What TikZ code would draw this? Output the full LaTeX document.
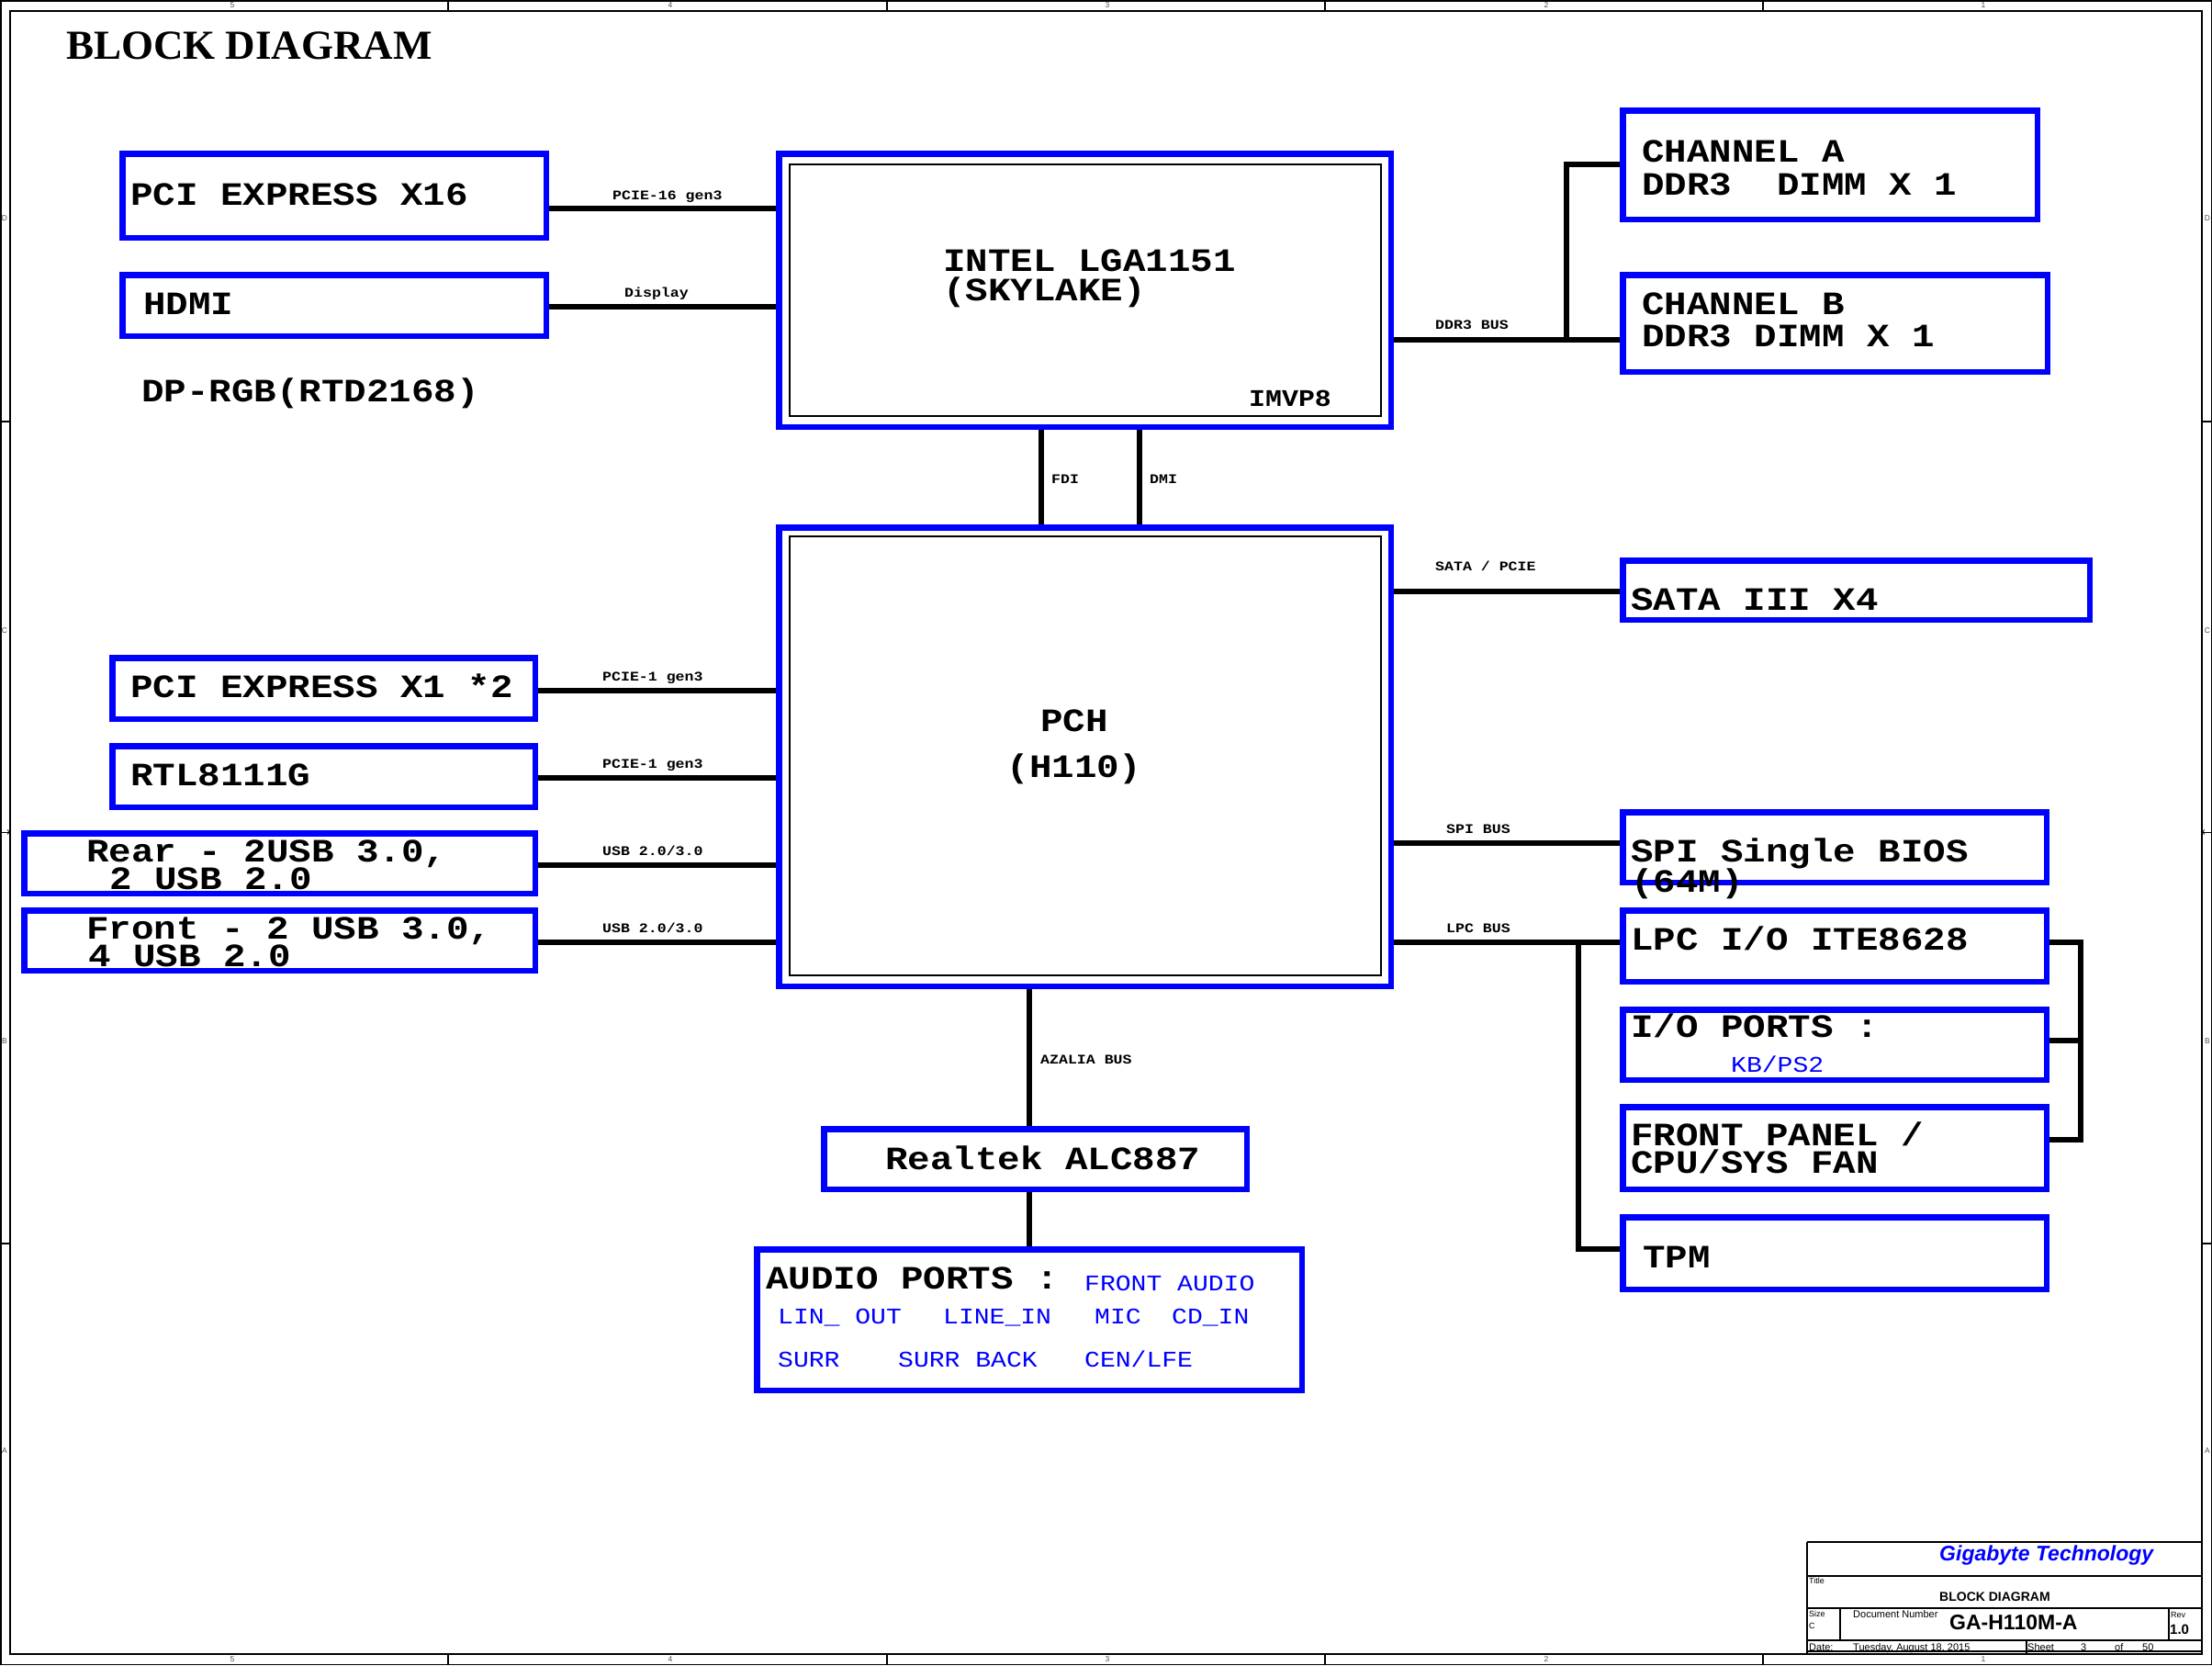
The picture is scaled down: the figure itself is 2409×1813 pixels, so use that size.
\documentclass[tikz,border=0pt]{standalone}
\usepackage{fontspec}
\setmainfont{Liberation Serif}
\setsansfont{Liberation Sans}
\newfontfamily\cour{Liberation Mono}[FakeStretch=1.15]
\usetikzlibrary{arrows}

\begin{document}
\begin{tikzpicture}[x=1pt,y=-1pt,
    blk/.style={draw=blue,line width=6.5pt,anchor=north west,inner sep=0pt},
    bus/.style={line width=6.5pt},
    big/.style={font=\cour\bfseries\fontsize{35.5}{35.5}\selectfont,anchor=base west,inner sep=0pt,text height=23pt,text depth=1pt},
    lbl/.style={font=\cour\bfseries\fontsize{14.4}{14.4}\selectfont,anchor=base west,inner sep=0pt,text height=10pt,text depth=1pt},
    pin/.style={font=\cour\fontsize{24.4}{24.4}\selectfont,text=blue,anchor=base west,inner sep=0pt,text height=16pt,text depth=1pt},
    tb/.style={font=\sffamily\fontsize{11}{11}\selectfont,anchor=base west,inner sep=0pt,text depth=0pt},
    zone/.style={font=\sffamily\fontsize{8.5}{8.5}\selectfont,text=black!70,inner sep=0pt}]
\useasboundingbox (0,0) rectangle (2409,1813);

\draw[line width=1.5pt] (0.75,0.75) rectangle (2408.25,1812.25);
\draw[line width=1.5pt] (11,12) rectangle (2398,1801);
\draw[line width=1.2pt] (488,0) -- (488,12) (966,0) -- (966,12) (1443,0) -- (1443,12) (1920,0) -- (1920,12)
    (488,1801) -- (488,1813) (966,1801) -- (966,1813) (1443,1801) -- (1443,1813) (1920,1801) -- (1920,1813)
    (0,459) -- (11,459) (0,1354) -- (11,1354) (2398,459) -- (2409,459) (2398,1354) -- (2409,1354);
\draw[line width=1pt,->] (0,906) -- (11,906);
\draw[line width=1pt,->] (2409,906) -- (2398,906);
\node[zone] (t5) at (253,6) {5};
\node[zone] (t4) at (730,6) {4};
\node[zone] (t3) at (1206,6) {3};
\node[zone] (t2) at (1684,6) {2};
\node[zone] (t1) at (2160,6) {1};
\node[zone] (b5) at (253,1807) {5};
\node[zone] (b4) at (730,1807) {4};
\node[zone] (b3) at (1206,1807) {3};
\node[zone] (b2) at (1684,1807) {2};
\node[zone] (b1) at (2160,1807) {1};
\node[zone] (ld) at (5,238) {D};
\node[zone] (lc) at (5,687) {C};
\node[zone] (lb) at (5,1134) {B};
\node[zone] (la) at (5,1580) {A};
\node[zone] (rd) at (2404,238) {D};
\node[zone] (rc) at (2404,687) {C};
\node[zone] (rb) at (2404,1134) {B};
\node[zone] (ra) at (2404,1580) {A};

\node[font=\rmfamily\bfseries\fontsize{45}{45}\selectfont,anchor=base west,inner sep=0pt] (title) at (72,64) {BLOCK DIAGRAM};

\node[blk,minimum width=461.5,minimum height=91.5] (x16) at (130,164) {};
\node[blk,minimum width=461.5,minimum height=66.5] (hdmi) at (130,296) {};
\node[blk,minimum width=666.5,minimum height=297.5] (cpu) at (845,164) {};
\node[blk,minimum width=666.5,minimum height=499.5] (pch) at (845,571) {};
\node[blk,minimum width=460.5,minimum height=66.5] (x1) at (119,713) {};
\node[blk,minimum width=460.5,minimum height=66.5] (rtl) at (119,809) {};
\node[blk,minimum width=556.5,minimum height=65.5] (rear) at (23,904) {};
\node[blk,minimum width=556.5,minimum height=65.5] (front) at (23,988) {};
\node[blk,minimum width=451.5,minimum height=118.5] (cha) at (1764,117) {};
\node[blk,minimum width=462.5,minimum height=105.5] (chb) at (1764,296) {};
\node[blk,minimum width=508.5,minimum height=64.5] (sata) at (1764,607) {};
\node[blk,minimum width=461.5,minimum height=76.5] (spi) at (1764,881) {};
\node[blk,minimum width=461.5,minimum height=77.5] (lpc) at (1764,988) {};
\node[blk,minimum width=461.5,minimum height=76.5] (io) at (1764,1096) {};
\node[blk,minimum width=461.5,minimum height=89.5] (fp) at (1764,1202) {};
\node[blk,minimum width=461.5,minimum height=78.5] (tpm) at (1764,1322) {};
\node[blk,minimum width=460.5,minimum height=65.5] (alc) at (894,1226) {};
\node[blk,minimum width=593.5,minimum height=153.5] (audio) at (821,1357) {};

\draw[line width=1.5pt] ([shift={(15,15)}]cpu.north west) rectangle ([shift={(-14,-15)}]cpu.south east);
\draw[line width=1.5pt] ([shift={(15,13)}]pch.north west) rectangle ([shift={(-14,-15)}]pch.south east);

\draw[bus] (x16.east |- 0,227) -- (cpu.west |- 0,227);
\draw[bus] (hdmi.east |- 0,334) -- (cpu.west |- 0,334);
\draw[bus] (1134,0 |- cpu.south) -- (1134,0 |- pch.north);
\draw[bus] (1241,0 |- cpu.south) -- (1241,0 |- pch.north);
\coordinate (ddr) at (1706,370);
\draw[bus] (cpu.east |- ddr) -- (chb.west |- ddr);
\draw[bus] (ddr) |- (cha.west |- 0,179);
\draw[bus] (x1.east |- 0,752) -- (pch.west |- 0,752);
\draw[bus] (rtl.east |- 0,847) -- (pch.west |- 0,847);
\draw[bus] (rear.east |- 0,942) -- (pch.west |- 0,942);
\draw[bus] (front.east |- 0,1026) -- (pch.west |- 0,1026);
\draw[bus] (pch.east |- 0,644) -- (sata.west |- 0,644);
\draw[bus] (pch.east |- 0,918) -- (spi.west |- 0,918);
\coordinate (lpcj) at (1719,1026);
\draw[bus] (pch.east |- lpcj) -- (lpc.west |- lpcj);
\draw[bus] (lpcj) |- (tpm.west |- 0,1360);
\coordinate (sioj) at (2266,1026);
\draw[bus] (lpc.east |- sioj) -- (sioj) |- (fp.east |- 0,1241);
\draw[bus] (io.east |- 0,1133) -- (sioj |- 0,1133);
\draw[bus] (1121,0 |- pch.south) -- (1121,0 |- alc.north);
\draw[bus] (1121,0 |- alc.south) -- (1121,0 |- audio.north);

\node[lbl] (l16) at (667,217) {PCIE-16 gen3};
\node[lbl] (ldisp) at (680,323) {Display};
\node[lbl] (lddr) at (1563,358) {DDR3 BUS};
\node[lbl] (lfdi) at (1145,526) {FDI};
\node[lbl] (ldmi) at (1252,526) {DMI};
\node[lbl] (lsata) at (1563,621) {SATA / PCIE};
\node[lbl] (lx1) at (656,741) {PCIE-1 gen3};
\node[lbl] (lrtl) at (656,836) {PCIE-1 gen3};
\node[lbl] (lrear) at (656,931) {USB 2.0/3.0};
\node[lbl] (lfront) at (656,1015) {USB 2.0/3.0};
\node[lbl] (lspi) at (1575,907) {SPI BUS};
\node[lbl] (llpc) at (1575,1015) {LPC BUS};
\node[lbl] (laz) at (1133,1158) {AZALIA BUS};

\node[big] (tx16) at (142,223) {PCI EXPRESS X16};
\node[big] (thdmi) at (156,342) {HDMI};
\node[big] (tdp) at (154,437) {DP-RGB(RTD2168)};
\node[big] (tcpu) at (1027,295) {INTEL LGA1151};
\node[big] (tsky) at (1027,327) {(SKYLAKE)};
\node[big,font=\cour\bfseries\fontsize{26}{26}\selectfont,text height=17pt] (tvr) at (1360,442) {IMVP8};
\node[big,anchor=base] (tpch) at (1170,796) {PCH};
\node[big,anchor=base] (th110) at (1170,846) {(H110)};
\node[big] (tx1) at (142,759) {PCI EXPRESS X1 *2};
\node[big] (trtl) at (142,855) {RTL8111G};
\node[big] (trear) at (94,938) {Rear - 2USB 3.0,};
\node[big] (trear2) at (119,968) {2 USB 2.0};
\node[big] (tfront) at (94,1022) {Front - 2 USB 3.0,};
\node[big] (tfront2) at (96,1052) {4 USB 2.0};
\node[big] (tcha) at (1788,176) {CHANNEL A};
\node[big] (tcha2) at (1788,212) {DDR3\ \ DIMM X 1};
\node[big] (tchb) at (1788,342) {CHANNEL B};
\node[big] (tchb2) at (1788,377) {DDR3 DIMM X 1};
\node[big] (tsata) at (1776,664) {SATA III X4};
\node[big] (tspi) at (1776,938) {SPI Single BIOS};
\node[big] (tspi2) at (1776,971) {(64M)};
\node[big] (tlpc) at (1776,1034) {LPC I/O ITE8628};
\node[big] (tio) at (1776,1129) {I/O PORTS :};
\node[pin] (tkb) at (1885,1167) {KB/PS2};
\node[big] (tfp) at (1776,1247) {FRONT PANEL /};
\node[big] (tfp2) at (1776,1277) {CPU/SYS FAN};
\node[big] (ttpm) at (1789,1380) {TPM};
\node[big] (talc) at (964,1273) {Realtek ALC887};
\node[big] (taudio) at (834,1403) {AUDIO PORTS :};
\node[pin] (pfa) at (1181,1405) {FRONT AUDIO};
\node[pin] (plo) at (847,1441) {LIN\_ OUT};
\node[pin] (pli) at (1027,1441) {LINE\_IN};
\node[pin] (pmic) at (1192,1441) {MIC};
\node[pin] (pcd) at (1276,1441) {CD\_IN};
\node[pin] (psr) at (847,1488) {SURR};
\node[pin] (psb) at (978,1488) {SURR BACK};
\node[pin] (pcen) at (1181,1488) {CEN/LFE};

\draw[line width=1.2pt] (1968,1679) -- (2398,1679) (1968,1716) -- (2398,1716) (1968,1786) -- (2398,1786)
    (1968,1798) -- (2398,1798) (1968,1679) -- (1968,1801) (2004,1751) -- (2004,1786)
    (2362,1751) -- (2362,1786) (2207,1786) -- (2207,1801);
\draw[line width=2pt] (1968,1751) -- (2398,1751);
\node[tb,font=\sffamily\bfseries\itshape\fontsize{23}{23}\selectfont,text=blue] (tgb) at (2112,1699) {Gigabyte Technology};
\node[tb,font=\sffamily\fontsize{9}{9}\selectfont] (ttitle) at (1970,1724) {Title};
\node[tb,font=\sffamily\bfseries\fontsize{14}{14}\selectfont] (tname) at (2112,1743) {BLOCK DIAGRAM};
\node[tb,font=\sffamily\fontsize{9}{9}\selectfont] (tsize) at (1970,1760) {Size};
\node[tb,font=\sffamily\fontsize{9}{9}\selectfont,text height=6.5pt] (tsc) at (1970,1773) {C};
\node[tb] (tdoc) at (2018,1761) {Document Number};
\node[tb,font=\sffamily\bfseries\fontsize{23}{23}\selectfont] (tnum) at (2123,1774) {GA-H110M-A};
\node[tb,font=\sffamily\fontsize{9}{9}\selectfont] (trev) at (2364,1761) {Rev};
\node[tb,font=\sffamily\bfseries\fontsize{15}{15}\selectfont,text height=11pt] (trev2) at (2363,1779) {1.0};
\node[tb] (tdate) at (1970,1797) {Date:};
\node[tb] (tday) at (2018,1797) {Tuesday, August 18, 2015};
\node[tb] (tsheet) at (2208,1797) {Sheet};
\node[tb] (tsh3) at (2266,1797) {3};
\node[tb] (tof) at (2303,1797) {of};
\node[tb] (tsh50) at (2333,1797) {50};
\end{tikzpicture}
\end{document}
